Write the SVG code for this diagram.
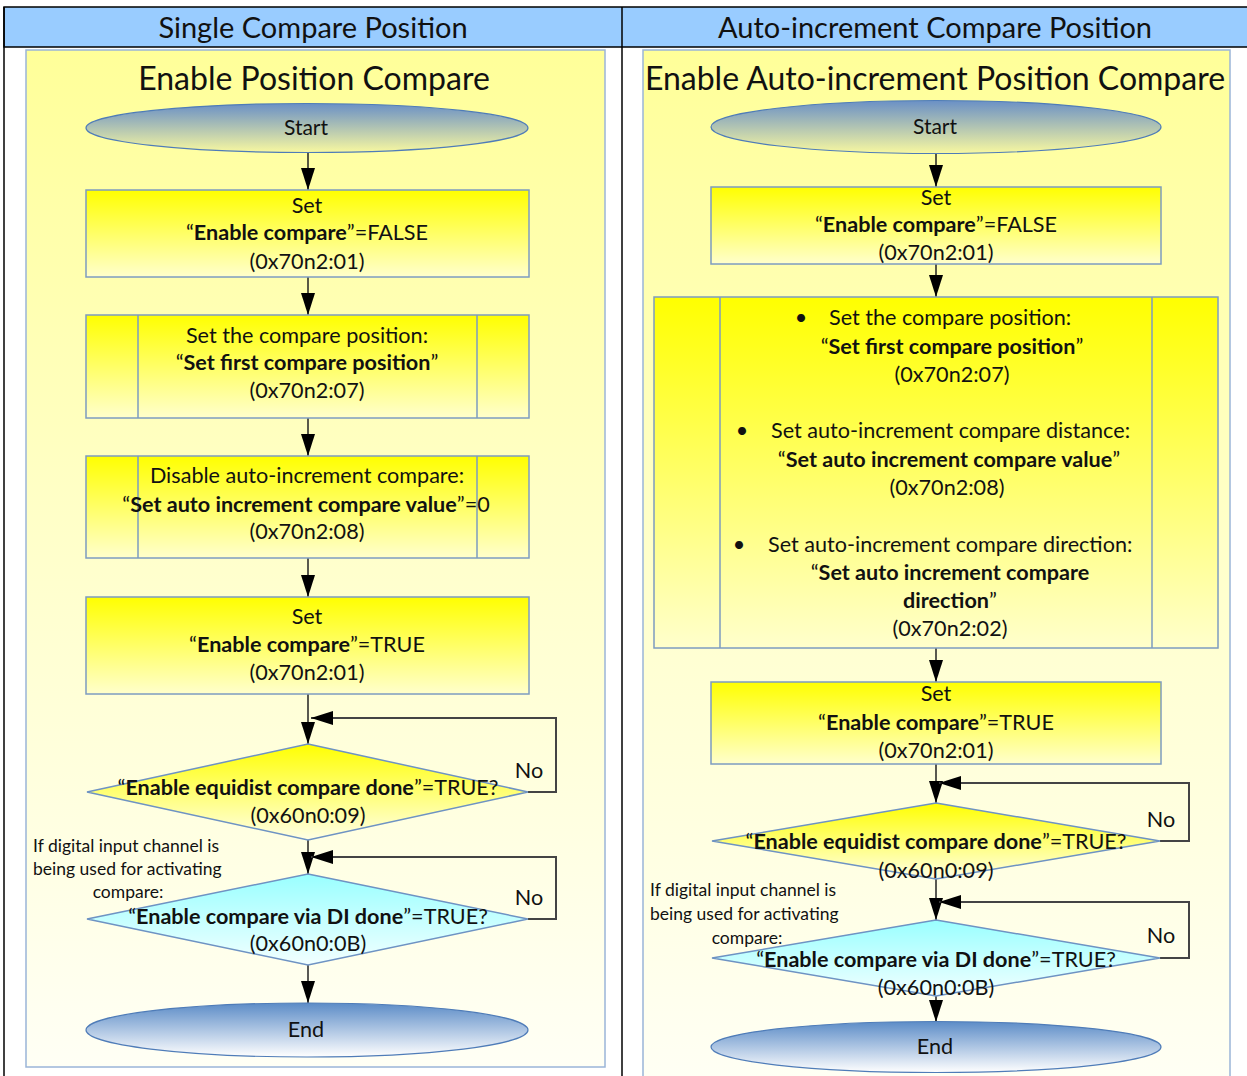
<svg xmlns="http://www.w3.org/2000/svg" width="1247" height="1076" viewBox="0 0 1247 1076">
<defs>
<linearGradient id="gPanel" x1="0" y1="0" x2="0" y2="1"><stop offset="0" stop-color="#FFFF99"/><stop offset="0.5" stop-color="#FFFFCC"/><stop offset="1" stop-color="#FFFFF5"/></linearGradient>
<linearGradient id="gBox" x1="0" y1="0" x2="0" y2="1"><stop offset="0" stop-color="#FFFF00"/><stop offset="1" stop-color="#FFFFCC"/></linearGradient>
<linearGradient id="gDia1" x1="0" y1="0" x2="0" y2="1"><stop offset="0" stop-color="#FFFF00"/><stop offset="1" stop-color="#FFFFE6"/></linearGradient>
<linearGradient id="gDia2" x1="0" y1="0" x2="0" y2="1"><stop offset="0" stop-color="#99FFFF"/><stop offset="1" stop-color="#F2FFFF"/></linearGradient>
<linearGradient id="gStart" x1="0" y1="0" x2="0" y2="1"><stop offset="0" stop-color="#6A90C6"/><stop offset="1" stop-color="#F8F8A0"/></linearGradient>
<linearGradient id="gEnd" x1="0" y1="0" x2="0" y2="1"><stop offset="0" stop-color="#5C8CC7"/><stop offset="1" stop-color="#FFFFFF"/></linearGradient>
<marker id="arr" viewBox="0 0 22 14" refX="22" refY="7" markerWidth="22" markerHeight="14" markerUnits="userSpaceOnUse" orient="auto"><path d="M0,0 L22,7 L0,14 z" fill="#000"/></marker>
</defs>
<style>
text{font-family:Lato,"Open Sans","Liberation Sans",sans-serif;fill:#111;}
.hdr{font-size:29px;text-anchor:middle;}
.ttl{font-size:32px;text-anchor:middle;}
.t{font-size:21.6px;text-anchor:middle;}
.ts{font-size:21.6px;}
.s{font-size:17.5px;}
.b{font-weight:bold;}
.box{fill:url(#gBox);stroke:#7E9CC0;stroke-width:1.5;}
.in{stroke:#7E9CC0;stroke-width:1.5;fill:none;}
.d1{fill:url(#gDia1);stroke:#6E93C3;stroke-width:1.5;}
.d2{fill:url(#gDia2);stroke:#6E93C3;stroke-width:1.5;}
.st{fill:url(#gStart);stroke:#4F7CB8;stroke-width:1.2;}
.en{fill:url(#gEnd);stroke:#4F7CB8;stroke-width:1.2;}
.panel{fill:url(#gPanel);stroke:#9BB5D8;stroke-width:1.5;}
.c{fill:none;stroke:#222;stroke-width:1.5;marker-end:url(#arr);}
.lp{fill:none;stroke:#444;stroke-width:2;marker-end:url(#arr);}
</style>
<rect x="0" y="0" width="1247" height="1076" fill="#fff"/>
<g id="table">
<rect x="4" y="7" width="1250" height="40" fill="#99CCFF" stroke="#000" stroke-width="1.5"/>
<line x1="4" y1="7" x2="4" y2="1076" stroke="#000" stroke-width="1.5"/>
<line x1="622" y1="7" x2="622" y2="1076" stroke="#000" stroke-width="1.5"/>
<text class="hdr" x="313" y="38">Single Compare Position</text>
<text class="hdr" x="935" y="38">Auto-increment Compare Position</text>
</g>
<g id="panel-left"><rect class="panel" x="26" y="50" width="579" height="1017"/><text class="ttl" x="314" y="90">Enable Position Compare</text></g>
<g id="panel-right"><rect class="panel" x="643" y="50" width="587" height="1040"/><text class="ttl" x="935" y="90">Enable Auto-increment Position Compare</text></g>

<g id="connectors">
<path class="c" d="M308,153 V190"/>
<path class="c" d="M308,277 V315"/>
<path class="c" d="M308,418 V456"/>
<path class="c" d="M308,558 V597"/>
<path class="c" d="M308,694 V744"/>
<path class="c" d="M308,840 V874"/>
<path class="c" d="M308,965 V1003"/>
<path class="lp" d="M528,792 H556 V718 H311"/>
<path class="lp" d="M528,919 H556 V857 H311"/>
<path class="c" d="M936,154 V187"/>
<path class="c" d="M936,264 V297"/>
<path class="c" d="M936,648 V682"/>
<path class="c" d="M936,764 V803"/>
<path class="c" d="M936,879 V920"/>
<path class="c" d="M936,996 V1022"/>
<path class="lp" d="M1160,841 H1189 V783 H939"/>
<path class="lp" d="M1160,958 H1189 V902 H939"/>
</g>

<g id="L-start"><ellipse class="st" cx="307" cy="128" rx="221" ry="24.5"/><text class="t" x="306" y="135" style="font-size:21px">Start</text></g>
<g id="L-box1"><rect class="box" x="86" y="190" width="443" height="87"/>
<text class="t" x="307" y="213">Set</text>
<text class="t" x="307" y="240">“<tspan class="b">Enable compare</tspan>”=FALSE</text>
<text class="t" x="307" y="269">(0x70n2:01)</text></g>
<g id="L-box2"><rect class="box" x="86" y="315" width="443" height="103"/><path class="in" d="M138,315 V418 M477,315 V418"/>
<text class="t" x="307" y="343">Set the compare position:</text>
<text class="t" x="307" y="370">“<tspan class="b">Set first compare position</tspan>”</text>
<text class="t" x="307" y="398">(0x70n2:07)</text></g>
<g id="L-box3"><rect class="box" x="86" y="456" width="443" height="102"/><path class="in" d="M138,456 V558 M477,456 V558"/>
<text class="t" x="307" y="483">Disable auto-increment compare:</text>
<text class="t" x="306" y="512">“<tspan class="b">Set auto increment compare value</tspan>”=0</text>
<text class="t" x="307" y="539">(0x70n2:08)</text></g>
<g id="L-box4"><rect class="box" x="86" y="597" width="443" height="97"/>
<text class="t" x="307" y="624">Set</text>
<text class="t" x="307" y="652">“<tspan class="b">Enable compare</tspan>”=TRUE</text>
<text class="t" x="307" y="680">(0x70n2:01)</text></g>
<g id="L-dec1"><polygon class="d1" points="308,744 528,792 308,840 87,792"/>
<text class="t" x="308" y="795">“<tspan class="b">Enable equidist compare done</tspan>”=TRUE?</text>
<text class="t" x="308" y="823">(0x60n0:09)</text>
<text class="t" x="529" y="778">No</text></g>
<g id="L-note"><text class="s" x="33" y="852">If digital input channel is</text><text class="s" x="33" y="875">being used for activating</text><text class="s" x="128" y="898" text-anchor="middle">compare:</text></g>
<g id="L-dec2"><polygon class="d2" points="308,874 528,919 308,965 87,919"/>
<text class="t" x="308" y="924">“<tspan class="b">Enable compare via DI done</tspan>”=TRUE?</text>
<text class="t" x="308" y="951">(0x60n0:0B)</text>
<text class="t" x="529" y="905">No</text></g>
<g id="L-end"><ellipse class="en" cx="307" cy="1030" rx="221" ry="27"/><text class="t" x="306" y="1037">End</text></g>

<g id="R-start"><ellipse class="st" cx="936" cy="127" rx="225" ry="26.5"/><text class="t" x="935" y="134" style="font-size:21px">Start</text></g>
<g id="R-box1"><rect class="box" x="711" y="187" width="450" height="77"/>
<text class="t" x="936" y="205">Set</text>
<text class="t" x="936" y="232">“<tspan class="b">Enable compare</tspan>”=FALSE</text>
<text class="t" x="936" y="260">(0x70n2:01)</text></g>
<g id="R-box2"><rect class="box" x="654" y="297" width="564" height="351"/><path class="in" d="M720,297 V648 M1152,297 V648"/>
<text class="t" x="801" y="325">•</text><text class="ts" x="829" y="325">Set the compare position:</text>
<text class="t" x="952" y="354">“<tspan class="b">Set first compare position</tspan>”</text>
<text class="t" x="952" y="382">(0x70n2:07)</text>
<text class="t" x="742" y="438">•</text><text class="ts" x="771" y="438">Set auto-increment compare distance:</text>
<text class="t" x="949" y="467">“<tspan class="b">Set auto increment compare value</tspan>”</text>
<text class="t" x="947" y="495">(0x70n2:08)</text>
<text class="t" x="739" y="552">•</text><text class="ts" x="768" y="552">Set auto-increment compare direction:</text>
<text class="t" x="950" y="580">“<tspan class="b">Set auto increment compare</tspan></text>
<text class="t" x="950" y="608"><tspan class="b">direction</tspan>”</text>
<text class="t" x="950" y="636">(0x70n2:02)</text></g>
<g id="R-box3"><rect class="box" x="711" y="682" width="450" height="82"/>
<text class="t" x="936" y="701">Set</text>
<text class="t" x="936" y="730">“<tspan class="b">Enable compare</tspan>”=TRUE</text>
<text class="t" x="936" y="758">(0x70n2:01)</text></g>
<g id="R-dec1"><polygon class="d1" points="936,803 1160,841 936,879 712,841"/>
<text class="t" x="936" y="849">“<tspan class="b">Enable equidist compare done</tspan>”=TRUE?</text>
<text class="t" x="936" y="878">(0x60n0:09)</text>
<text class="t" x="1161" y="827">No</text></g>
<g id="R-note"><text class="s" x="650" y="896">If digital input channel is</text><text class="s" x="650" y="920">being used for activating</text><text class="s" x="747" y="944" text-anchor="middle">compare:</text></g>
<g id="R-dec2"><polygon class="d2" points="936,920 1160,958 936,996 712,958"/>
<text class="t" x="936" y="967">“<tspan class="b">Enable compare via DI done</tspan>”=TRUE?</text>
<text class="t" x="936" y="995">(0x60n0:0B)</text>
<text class="t" x="1161" y="943">No</text></g>
<g id="R-end"><ellipse class="en" cx="936" cy="1047" rx="225" ry="25.5"/><text class="t" x="935" y="1054">End</text></g>
</svg>
